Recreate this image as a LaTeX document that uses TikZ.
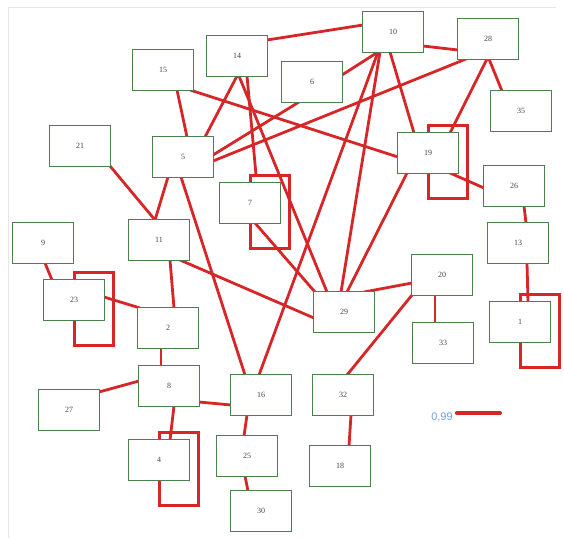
\documentclass[tikz,border=0pt]{standalone}
\usepackage{fontspec}
\setmainfont{Liberation Serif}
\newfontfamily\legendfont{Liberation Sans}
\usetikzlibrary{calc}
\definecolor{edgered}{RGB}{214,38,40}
\definecolor{boxgreen}{RGB}{78,125,78}
\definecolor{labelgray}{RGB}{70,70,70}
\definecolor{legendblue}{RGB}{110,160,215}
\tikzset{
  vbox/.style={draw=boxgreen, line width=1.7pt, fill=white, minimum width=61pt, minimum height=41pt, inner sep=0pt, font=\fontsize{8}{9}\selectfont, text=labelgray},
  link/.style={draw=edgered, line width=2.8pt},
  selfloop/.style={draw=edgered, line width=3pt},
  frameline/.style={draw=black!10, line width=0.8pt}
}
\begin{document}
\begin{tikzpicture}[x=1pt, y=-1pt]
\useasboundingbox (0,0) rectangle (564,538);
\draw[frameline] (8,538) -- (8,7) -- (556,7);
% node positions (coordinates only first, boxes drawn last)
\foreach \n/\x/\y in {15/163/70, 14/237/56, 10/393/32, 28/488/39, 6/312/82, 35/521/111,
  21/80/146, 5/183/157, 19/428/153, 26/514/186, 7/250/203, 11/159/240, 9/43/243,
  13/518/243, 20/442/275, 23/74/300, 29/344/312, 2/168/328, 1/520/322, 33/443/343,
  8/169/386, 27/69/410, 16/261/395, 32/343/395, 4/159/460, 25/247/456, 18/340/466, 30/261/511}
  {\coordinate (n\n) at (\x,\y);}
% connectors
\draw[link] ($(n14)+(30,-16)$) -- ($(n10)+(-30,-7)$);
\draw[link] ($(n10)+(30,14)$) -- ($(n28)+(-30,11)$);
\draw[link] ($(n28)+(1,20)$) -- ($(n35)+(-19,-20)$);
\draw[link] ($(n28)+(-1,20)$) -- ($(n19)+(22,-20)$);
\draw[link] ($(n28)+(-22,20)$) -- ($(n5)+(30,4)$);
\draw[link] ($(n5)+(30,-2)$) -- ($(n6)+(-13,20)$);
\draw[link] ($(n6)+(30,-7)$) -- ($(n10)+(-15,20)$);
\draw[link] ($(n10)+(-15,20)$) -- ($(n16)+(-2,-20)$);
\draw[link] ($(n10)+(-13,20)$) -- ($(n29)+(-3,-20)$);
\draw[link] ($(n10)+(-3,20)$) -- ($(n19)+(-14,-20)$);
\draw[link] ($(n15)+(27,20)$) -- ($(n19)+(-30,4)$);
\draw[link] ($(n15)+(14,20)$) -- ($(n5)+(4,-20)$);
\draw[link] ($(n14)+(0,20)$) -- ($(n5)+(22,-20)$);
\draw[link] ($(n14)+(2,20)$) -- ($(n29)+(-17,-20)$);
\draw[link] ($(n14)+(10,20)$) -- ($(n7)+(6,-28)$);
\draw[link] ($(n21)+(30,20)$) -- ($(n11)+(-4,-20)$);
\draw[link] ($(n5)+(-15,20)$) -- ($(n11)+(-4,-20)$);
\draw[link] ($(n5)+(-2,20)$) -- ($(n16)+(-16,-20)$);
\draw[link] ($(n11)+(11,20)$) -- ($(n2)+(6,-20)$);
\draw[link] ($(n11)+(21,20)$) -- ($(n29)+(-30,6)$);
\draw[link] ($(n7)+(5,20)$) -- ($(n29)+(-29,-20)$);
\draw[link] ($(n19)+(-21,20)$) -- ($(n29)+(3,-20)$);
\draw[link] ($(n19)+(22,20)$) -- ($(n26)+(-30,2)$);
\draw[link] ($(n26)+(10,20)$) -- ($(n13)+(8,-20)$);
\draw[link] ($(n13)+(9,20)$) -- ($(n1)+(8,-20)$);
\draw[link] ($(n20)+(-30,8)$) -- ($(n29)+(20,-20)$);
\draw[link] ($(n20)+(-30,20)$) -- ($(n32)+(4,-20)$);
\draw[link] ($(n20)+(-7,20)$) -- ($(n33)+(-8,-20)$);
\draw[link] ($(n32)+(8,20)$) -- ($(n18)+(9,-20)$);
\draw[link] ($(n9)+(2,20)$) -- ($(n23)+(-22,-20)$);
\draw[link] ($(n23)+(30,-3)$) -- ($(n2)+(-28,-20)$);
\draw[link] ($(n2)+(-7,20)$) -- ($(n8)+(-8,-20)$);
\draw[link] ($(n8)+(-30,-5)$) -- ($(n27)+(30,-18)$);
\draw[link] ($(n8)+(30,16)$) -- ($(n16)+(-30,10)$);
\draw[link] ($(n8)+(5,20)$) -- ($(n4)+(11,-20)$);
\draw[link] ($(n16)+(-14,20)$) -- ($(n25)+(-3,-20)$);
\draw[link] ($(n25)+(-2,20)$) -- ($(n30)+(-13,-20)$);
% self loops
\foreach \n in {7,19,23,4,1}
  {\draw[selfloop] ($(n\n)+(0,-28)$) rectangle ($(n\n)+(39,45)$);}
% boxes
\foreach \n in {15,14,10,28,6,35,21,5,19,26,7,11,9,13,20,23,29,2,1,33,8,27,16,32,4,25,18,30}
  {\node[vbox] (b\n) at (n\n) {\n};}
% legend
\node[font=\legendfont\fontsize{11}{12}\selectfont, text=legendblue, inner sep=0pt] (legtext) at (442,417) {0,99};
\coordinate (legend end) at (500,413);
\draw[draw=edgered, line width=4pt, line cap=round] ($(legtext.east)+(4,-4)$) -- (legend end);
\end{tikzpicture}
\end{document}
